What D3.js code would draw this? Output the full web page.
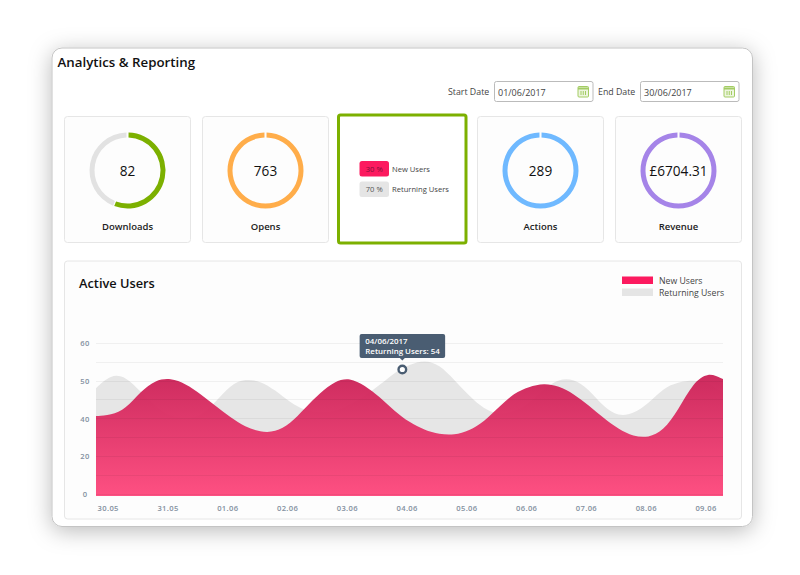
<!DOCTYPE html>
<html lang="en">
<head>
    <meta charset="UTF-8"/>
    <title>Analytics &amp; Reporting</title>
    <script src="https://d3js.org/d3.v7.min.js"></script>
    <style>
        html, body { margin: 0; padding: 0; background: #fff; }
        svg { display: block; font-family: "Open Sans", sans-serif; }
        .axis text { font: 600 7.6px "Open Sans", sans-serif; fill: #8390a0; letter-spacing: .35px; }
        .axis path, .axis line { display: none; }
        .tile { fill: #fdfdfd; stroke: #e6e6e6; stroke-width: 1; }
        .grid-line { stroke: #000; stroke-opacity: .05; shape-rendering: crispedges; }
    </style>
</head>
<body></body>
<script type="text/javascript">
    // tile values
    let tileNames = ["Downloads", "Opens", "Actions", "Revenue"],
        tileLabels = ["82", "763", "289", "£6704.31"],
        tileShares = [[56, 44], [100], [100], [100]],
        tileColors = [["#7cb000", "#e2e2e2"], ["#ffad4a"], ["#6fb9ff"], ["#a584e8"]];

    // split tile
    let splitNames = ["New Users", "Returning Users"],
        splitValues = [30, 70];

    // chart values, four samples per day
    let dayLabels = ["30.05", "31.05", "01.06", "02.06", "03.06", "04.06", "05.06", "06.06", "07.06", "08.06", "09.06"],
        yTickValues = [0, 20, 40, 50, 60],
        gridValues = [0, 10, 20, 30, 40, 45, 50, 55, 60],
        returningUsers = [48.1, 51.8, 51.2, 47.1, 43.1, 40.5, 39.8, 40.5, 44.4, 49.0, 50.6, 50.0, 47.6, 44.3,
            42.1, 41.6, 41.9, 43.6, 46.0, 48.9, 52.3, 54.4, 55.6, 54.4, 50.3, 46.0, 42.5, 41.0, 41.8, 43.9,
            47.9, 50.6, 50.6, 47.9, 43.1, 40.6, 41.3, 44.0, 48.1, 49.7, 50.2, 49.7, 46.8],
        newUsers = [40.7, 40.9, 42.6, 47.3, 50.3, 50.8, 49.3, 46.6, 43.4, 40.4, 35.6, 32.9, 32.8, 37.2,
            42.8, 46.8, 50.0, 50.9, 48.8, 45.8, 42.0, 38.0, 34.0, 31.7, 31.3, 33.5, 38.5, 43.1, 46.8, 48.5,
            49.4, 48.7, 46.6, 43.6, 40.2, 34.5, 30.6, 29.9, 33.5, 42.3, 49.5, 52.4, 50.5];

    let hoverIndex = 20.52,
        hoverValue = 53.05,
        hoverLines = ["04/06/2017", "Returning Users: 54"];

    let width = 800,
        height = 575;

    let svg = d3.select("body").append("svg")
        .attr("width", width)
        .attr("height", height);

    let defs = svg.append("defs");

    let shadow = defs.append("filter")
        .attr("id", "card-shadow")
        .attr("x", "-10%").attr("y", "-10%")
        .attr("width", "120%").attr("height", "125%");
    shadow.append("feDropShadow")
        .attr("dx", 0).attr("dy", 4)
        .attr("stdDeviation", 11)
        .attr("flood-color", "#000")
        .attr("flood-opacity", .27);

    let gradient = defs.append("linearGradient")
        .attr("id", "new-users-fill")
        .attr("gradientUnits", "userSpaceOnUse")
        .attr("x1", 0).attr("y1", 375)
        .attr("x2", 0).attr("y2", 496);
    gradient.append("stop").attr("offset", 0).attr("stop-color", "#cb2358");
    gradient.append("stop").attr("offset", 1).attr("stop-color", "#ff4a7e");

    // outer card
    svg.append("rect")
        .attr("x", 52).attr("y", 48)
        .attr("width", 700.5).attr("height", 478.5)
        .attr("rx", 10)
        .attr("fill", "#fff")
        .attr("stroke", "#c4c4c4")
        .attr("filter", "url(#card-shadow)");

    svg.append("text")
        .attr("x", 57.5).attr("y", 67)
        .style("font-size", "13.3px")
        .style("font-weight", 600)
        .attr("fill", "#111")
        .text("Analytics & Reporting");

    // date pickers
    function datePicker(label, labelX, boxX, value) {
        svg.append("text")
            .attr("x", labelX).attr("y", 95)
            .style("font-size", "8.8px")
            .attr("fill", "#444")
            .text(label);
        svg.append("rect")
            .attr("x", boxX).attr("y", 81.5)
            .attr("width", 98.5).attr("height", 20)
            .attr("rx", 2)
            .attr("fill", "#fff")
            .attr("stroke", "#bbb");
        svg.append("text")
            .attr("x", boxX + 3.5).attr("y", 95.5)
            .style("font-size", "9px")
            .attr("fill", "#444")
            .text(value);

        // calendar icon
        let icon = svg.append("g")
            .attr("transform", "translate(" + (boxX + 83.5) + ",86.5)")
            .attr("fill", "none")
            .attr("stroke", "#a3cc63");
        icon.append("rect").attr("width", 10.5).attr("height", 10.5).attr("rx", 1).attr("fill", "#edf5df");
        icon.append("line").attr("x1", 0).attr("x2", 10.5).attr("y1", 2).attr("y2", 2).attr("stroke-width", 2);
        d3.range(3).forEach(function(i) {
            icon.append("line")
                .attr("x1", 3 + i * 2.25).attr("x2", 3 + i * 2.25)
                .attr("y1", 4.5).attr("y2", 8.5);
        });
    }
    datePicker("Start Date", 448, 494.5, "01/06/2017");
    datePicker("End Date", 598, 640.5, "30/06/2017");

    // donut tiles
    let tileX = [64.5, 202.5, 477.5, 615.5];

    let pie = d3.pie()
        .sort(null)
        .startAngle(.012)
        .endAngle(2 * Math.PI - .012)
        .padAngle(.024);

    let arc = d3.arc()
        .innerRadius(33)
        .outerRadius(38);

    tileNames.forEach(function(name, i) {
        let g = svg.append("g").attr("transform", "translate(" + tileX[i] + ",116.5)");

        g.append("rect")
            .attr("class", "tile")
            .attr("width", 126).attr("height", 126)
            .attr("rx", 3);

        let donut = g.append("g").attr("transform", "translate(63,54)");
        donut.selectAll("path")
            .data(pie(tileShares[i]))
            .enter().append("path")
            .attr("d", arc)
            .attr("fill", function(d, j) { return tileColors[i][j]; });

        donut.append("text")
            .attr("text-anchor", "middle")
            .attr("y", 5)
            .style("font-size", "13.6px")
            .attr("fill", "#111")
            .text(tileLabels[i]);

        g.append("text")
            .attr("x", 63).attr("y", 113)
            .attr("text-anchor", "middle")
            .style("font-size", "9.5px")
            .style("font-weight", 600)
            .attr("fill", "#222")
            .text(name);
    });

    // split tile
    svg.append("rect")
        .attr("x", 338.5).attr("y", 115)
        .attr("width", 127.5).attr("height", 128)
        .attr("rx", 2)
        .attr("fill", "#fff")
        .attr("stroke", "#7cb000")
        .attr("stroke-width", 3);

    let splitColors = ["#fc1a5f", "#e5e5e5"],
        splitTop = [161, 181.5];

    splitNames.forEach(function(name, i) {
        svg.append("rect")
            .attr("x", 359.5).attr("y", splitTop[i])
            .attr("width", 29.5).attr("height", 15.5)
            .attr("rx", 2.5)
            .attr("fill", splitColors[i]);
        svg.append("text")
            .attr("x", 374.2).attr("y", splitTop[i] + 10.8)
            .attr("text-anchor", "middle")
            .style("font-size", "7.6px")
            .attr("fill", i == 0 ? "#7a1238" : "#555")
            .text(splitValues[i] + " %");
        svg.append("text")
            .attr("x", 392).attr("y", splitTop[i] + 10.8)
            .style("font-size", "7.6px")
            .attr("fill", "#444")
            .text(name);
    });

    // chart panel
    svg.append("rect")
        .attr("class", "tile")
        .attr("x", 64.5).attr("y", 261)
        .attr("width", 677).attr("height", 258)
        .attr("rx", 3);

    svg.append("text")
        .attr("x", 79).attr("y", 288)
        .style("font-size", "12.8px")
        .style("font-weight", 600)
        .attr("fill", "#111")
        .text("Active Users");

    // legend
    let legendColors = ["#fc1a5f", "#e5e5e5"],
        legendTop = [276.5, 288.5];

    splitNames.forEach(function(name, i) {
        svg.append("rect")
            .attr("x", 622).attr("y", legendTop[i])
            .attr("width", 31).attr("height", 7.5)
            .attr("fill", legendColors[i]);
        svg.append("text")
            .attr("x", 659).attr("y", legendTop[i] + 7.5)
            .style("font-size", "8.7px")
            .attr("fill", "#444")
            .text(name);
    });

    // the printed labels are evenly spaced, so the scale is piecewise
    let scaleY = d3.scaleLinear()
        .domain(yTickValues)
        .range([494, 456.4, 418.7, 381, 343.3]);

    // sample positions across the plot
    let scaleX = d3.scaleLinear()
        .domain([0, newUsers.length - 1])
        .range([96, 723]);

    // day labels do not line up with the ends of the plot
    let scaleDay = d3.scalePoint()
        .domain(dayLabels)
        .range([107.7, 705.5]);

    let baseline = scaleY(0) + 2;

    let area = d3.area()
        .x(function(d, i) { return scaleX(i); })
        .y0(baseline)
        .y1(function(d) { return scaleY(d); })
        .curve(d3.curveBasis);

    svg.append("path")
        .attr("d", area(returningUsers))
        .attr("fill", "#e6e6e6");

    svg.append("path")
        .attr("d", area(newUsers))
        .attr("fill", "url(#new-users-fill)")
        .attr("fill-opacity", .96);

    svg.selectAll(".grid-line")
        .data(gridValues)
        .enter().append("line")
        .attr("class", "grid-line")
        .attr("x1", 96).attr("x2", 723)
        .attr("y1", function(d) { return scaleY(d); })
        .attr("y2", function(d) { return scaleY(d); });

    // axes
    svg.append("g")
        .attr("class", "axis")
        .attr("transform", "translate(88,0)")
        .call(d3.axisLeft(scaleY).tickValues(yTickValues).tickSize(0).tickPadding(0))
        .selectAll("text")
        .attr("text-anchor", "middle")
        .attr("x", -3);

    svg.append("g")
        .attr("class", "axis")
        .attr("transform", "translate(0,503)")
        .call(d3.axisBottom(scaleDay).tickSize(0).tickPadding(3));

    // hover marker and tooltip
    let hoverX = scaleX(hoverIndex),
        hoverY = scaleY(hoverValue);

    svg.append("circle")
        .attr("cx", hoverX).attr("cy", hoverY)
        .attr("r", 3.8)
        .attr("fill", "#fff")
        .attr("stroke", "#4a5d72")
        .attr("stroke-width", 2.4);

    let tip = svg.append("g").attr("transform", "translate(" + hoverX + "," + (hoverY - 11) + ")");

    tip.append("path")
        .attr("d", "M-3,-1L0,2L3,-1Z")
        .attr("fill", "#4a5d72");
    tip.append("rect")
        .attr("x", -42.7).attr("y", -24.5)
        .attr("width", 85.5).attr("height", 24)
        .attr("rx", 2)
        .attr("fill", "#4a5d72");

    tip.selectAll("text")
        .data(hoverLines)
        .enter().append("text")
        .attr("x", -37)
        .attr("y", function(d, i) { return -14.7 + i * 9.8; })
        .style("font-size", "7.9px")
        .style("font-weight", 600)
        .attr("fill", "#fff")
        .text(function(d) { return d; });
</script>
</html>
